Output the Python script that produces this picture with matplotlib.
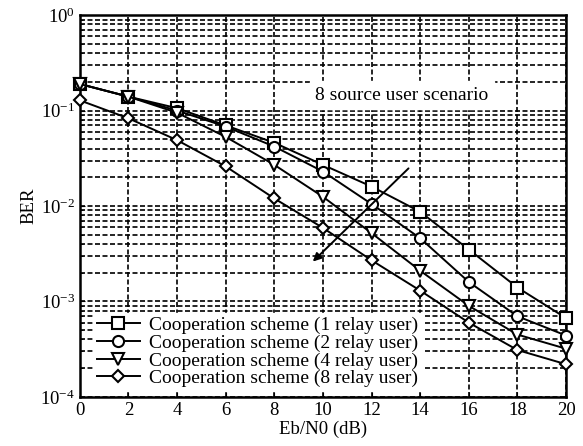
import numpy as np
import matplotlib.pyplot as plt

plt.rcParams['font.family'] = ['Liberation Serif', 'DejaVu Serif']
plt.rcParams['mathtext.fontset'] = 'stix'

snr = [0, 2, 4, 6, 8, 10, 12, 14, 16, 18, 20]
ber_1 = [0.19, 0.14, 0.106, 0.070, 0.046, 0.027, 0.016, 0.0087, 0.0035, 0.0014, 0.00067]
ber_2 = [0.19, 0.14, 0.100, 0.068, 0.042, 0.023, 0.0105, 0.0046, 0.0016, 0.0007, 0.00044]
ber_4 = [0.19, 0.14, 0.095, 0.053, 0.027, 0.0125, 0.0052, 0.0021, 0.0009, 0.00045, 0.00032]
ber_8 = [0.128, 0.083, 0.049, 0.026, 0.012, 0.0059, 0.0027, 0.0013, 0.0006, 0.00031, 0.00022]

labels = ["Cooperation scheme (1 relay user)",
          "Cooperation scheme (2 relay user)",
          "Cooperation scheme (4 relay user)",
          "Cooperation scheme (8 relay user)"]
markers = ["s", "o", "v", "D"]
sizes = [8, 8, 8, 6]

fig = plt.figure(figsize=(5.83, 4.46), dpi=100)
ax = fig.add_axes([0.137, 0.110, 0.834, 0.856])

for y, lab, m, ms in zip([ber_1, ber_2, ber_4, ber_8], labels, markers, sizes):
    ax.semilogy(snr, y, color='black', lw=1.4, marker=m, ms=ms,
                mfc='white', mec='black', mew=1.5, label=lab, zorder=3,
                clip_on=False)

ax.set_xlim(0, 20)
ax.set_ylim(1e-4, 1)
ax.set_xticks(snr)
ax.grid(True, which='major', axis='both', color='black', ls=(0, (3, 1.5)), lw=1.2)
ax.grid(True, which='minor', axis='y', color='black', ls=(0, (3, 1.5)), lw=1.2)
ax.tick_params(which='both', direction='in', labelsize=13.5)
ax.tick_params(axis='x', which='minor', bottom=False)
for s in ax.spines.values():
    s.set_linewidth(1.8)

ax.annotate("", xy=(9.5, 0.0025), xytext=(13.6, 0.026),
            arrowprops=dict(arrowstyle='-|>', color='black', lw=1.4,
                            mutation_scale=12), zorder=4)
ax.text(13.25, 0.145, "8 source user scenario", ha='center', va='center',
        fontsize=14, backgroundcolor='white', zorder=4)

ax.set_xlabel("Eb/N0 (dB)", fontsize=13.5, labelpad=1)
ax.set_ylabel("BER", fontsize=13.5, labelpad=2)

leg = ax.legend(loc='lower left', fontsize=14, frameon=True, fancybox=False,
                edgecolor='white', framealpha=1, borderpad=0.2,
                labelspacing=0.0, handlelength=2.2, handletextpad=0.5,
                borderaxespad=0.3, bbox_to_anchor=(0.015, 0.0))
leg.set_zorder(5)

fig.savefig("out.png", dpi=100)
